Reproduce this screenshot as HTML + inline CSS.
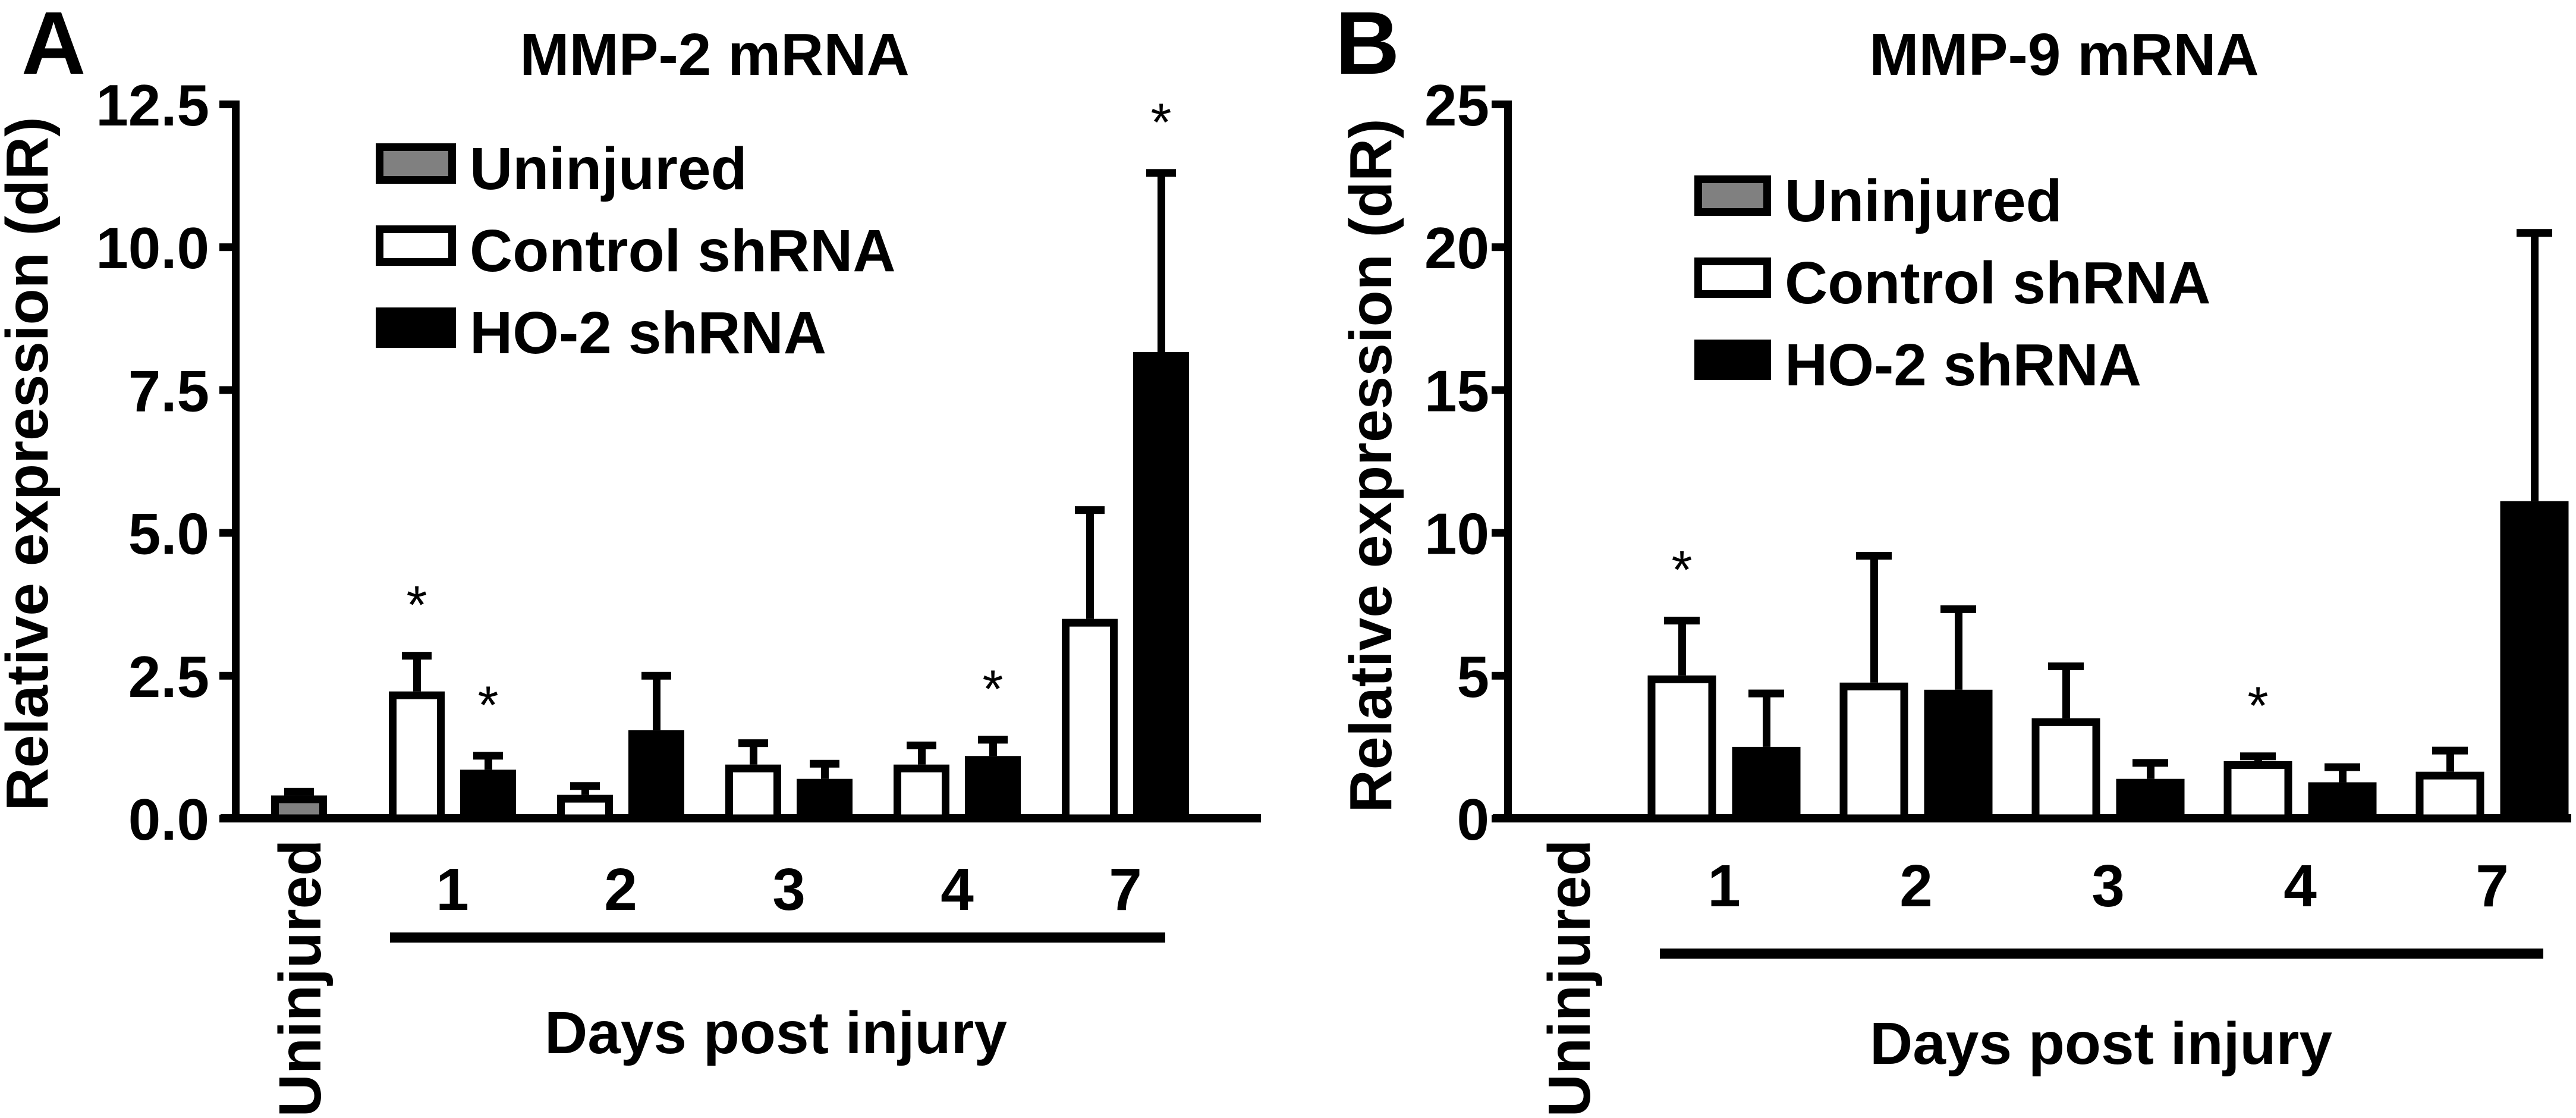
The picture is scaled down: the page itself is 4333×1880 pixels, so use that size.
<!DOCTYPE html>
<html><head><meta charset="utf-8">
<style>
html,body{margin:0;padding:0;background:#fff;}
svg{display:block;}
text{font-family:"Liberation Sans",Arial,sans-serif;font-weight:bold;fill:#000;}
</style></head>
<body>
<svg id="fig" width="4333" height="1880" viewBox="0 0 4333 1880" xmlns="http://www.w3.org/2000/svg">
<g id="pa"></g>
<g id="pb"></g>
</svg>
<script>
// Shared categories
const days = ["1","2","3","4","7"];
// Panel A data (MMP-2)
const aTicks = ["0.0","2.5","5.0","7.5","10.0","12.5"];
const aTickVals = [0,2.5,5,7.5,10,12.5];
const aUninj = 0.40, aUninjErr = 0.47;
const aCtrl = [2.22,0.41,0.94,0.94,3.49];
const aCtrlErr = [2.85,0.57,1.32,1.28,5.40];
const aHo = [0.85,1.54,0.69,1.09,8.16];
const aHoErr = [1.10,2.50,0.96,1.38,11.30];
const aCtrlStar = [true,false,false,false,false];
const aHoStar = [true,false,false,true,true];
// Panel B data (MMP-9)
const bTicks = ["0","5","10","15","20","25"];
const bTickVals = [0,5,10,15,20,25];
const bUninj = 0.05, bUninjErr = 0.05;
const bCtrl = [5.0,4.75,3.5,2.0,1.63];
const bCtrlErr = [6.93,9.2,5.33,2.18,2.38];
const bHo = [2.5,4.5,1.38,1.26,11.1];
const bHoErr = [4.38,7.33,1.95,1.8,20.5];
const bCtrlStar = [true,false,false,true,false];
const bHoStar = [false,false,false,false,false];

const NS="http://www.w3.org/2000/svg";
function mk(tag, attrs, parent, txt){
  const e=document.createElementNS(NS,tag);
  for(const k in attrs) e.setAttribute(k, attrs[k]);
  if(txt!==undefined) e.textContent=txt;
  parent.appendChild(e);
  return e;
}

function panel(g, cfg){
  const y = v => cfg.y0 - (v/cfg.ymax)*(cfg.y0-cfg.yTop);
  const SW=13;
  // letter
  let t=mk('text',{x:cfg.letterX,y:124,'font-size':150},g,cfg.letter);
  
  
  t=mk('text',{x:cfg.titleX,y:126,'font-size':100,'text-anchor':'middle'},g,cfg.title);
  
  
  // y label
  t=mk('text',{x:0,y:0,'font-size':100,'text-anchor':'middle',transform:`translate(${cfg.ylabX},${cfg.ylabY}) rotate(-90)`},g,"Relative expression (dR)");
  
  
  // axes
  let a=mk('rect',{x:cfg.ax-6,y:cfg.yTop-6,width:13,height:cfg.y0-cfg.yTop+12},g);
  
  
  a=mk('rect',{x:cfg.ax-25,y:cfg.y0-7,width:cfg.xEnd-cfg.ax+25,height:14},g);
  
  
  cfg.tickVals.forEach((v,i)=>{
    const ty=y(v);
    const tk=mk('rect',{x:cfg.ax-27,y:ty-6,width:27,height:13},g);
    
    
    const tl=mk('text',{x:cfg.tickRight,y:ty+36,'font-size':98,'text-anchor':'end'},g,cfg.ticks[i]);
    
    
  });
  function bar(cx, v, err, fill, name, star){
    const left=cx-cfg.bw/2, top=y(v);
    const h=Math.max(cfg.y0-top,1);
    if(err>v){
      const es=mk('rect',{x:cx-6,y:y(err),width:13,height:top-y(err)},g);
      
      
      const ec=mk('rect',{x:cx-cfg.capW/2,y:y(err)-6,width:cfg.capW,height:13},g);
      
      
    }
    const r=mk('rect',{x:left+SW/2,y:top+SW/2,width:cfg.bw-SW,height:Math.max(h-SW/2,0),fill:fill,stroke:'#000','stroke-width':SW},g);
    
    
    if(star){
      const s=mk('text',{x:cx,y:y(err)-100+46,'font-size':90,'font-weight':'normal','text-anchor':'middle',style:'font-weight:normal'},g,'*');
      
      
    }
  }
  bar(cfg.uninjX, cfg.uninj, cfg.uninjErr, '#808080','bar-uninjured',false);
  days.forEach((d,i)=>{
    const c=cfg.c1+i*cfg.pitch;
    bar(c-cfg.off, cfg.ctrl[i], cfg.ctrlErr[i], '#fff','bar-control-day'+d,cfg.ctrlStar[i]);
    bar(c+cfg.off, cfg.ho[i], cfg.hoErr[i], '#000','bar-ho2-day'+d,cfg.hoStar[i]);
    const dl=mk('text',{x:c,y:cfg.dayY,'font-size':100,'text-anchor':'middle'},g,d);
    
    
  });
  t=mk('text',{x:0,y:0,'font-size':100,'text-anchor':'middle',transform:`translate(${cfg.uninjX+36},1645) rotate(-90)`},g,"Uninjured");
  
  
  a=mk('rect',{x:cfg.lineX1,y:cfg.lineY-8,width:cfg.lineX2-cfg.lineX1,height:17},g);
  
  
  t=mk('text',{x:cfg.dpiX,y:cfg.dpiY,'font-size':100,'text-anchor':'middle'},g,"Days post injury");
  
  
  // legend
  const fills=['#808080','#fff','#000'], labels=['Uninjured','Control shRNA','HO-2 shRNA'];
  labels.forEach((lb,i)=>{
    const by=cfg.legY+i*cfg.legStep;
    const lg=mk('g',{},g);
    
    
    const sw=mk('rect',{x:cfg.legX+6.5,y:by+6.5,width:cfg.legW-13,height:55,fill:fills[i],stroke:'#000','stroke-width':13},lg);
    
    
    const lt=mk('text',{x:cfg.legX+cfg.legW+23,y:by+77,'font-size':100},lg,lb);
    
    
  });
}

panel(document.getElementById('pa'),{
  letter:'A', letterX:36, title:'MMP-2 mRNA', titleX:1202, ylabX:80, ylabY:780,
  ax:396, y0:1376, yTop:175, ymax:12.5, xEnd:2121, tickRight:352,
  ticks:aTicks, tickVals:aTickVals,
  uninj:aUninj, uninjErr:aUninjErr, uninjX:503,
  ctrl:aCtrl, ctrlErr:aCtrlErr, ho:aHo, hoErr:aHoErr, ctrlStar:aCtrlStar, hoStar:aHoStar,
  c1:761, pitch:283, off:60, bw:94, capW:50,
  dayY:1530, lineX1:656, lineX2:1960, lineY:1576, dpiX:1305, dpiY:1771,
  legX:632, legY:241, legStep:138, legW:135
});
panel(document.getElementById('pb'),{
  letter:'B', letterX:2246, title:'MMP-9 mRNA', titleX:3472, ylabX:2340, ylabY:783,
  ax:2536, y0:1376, yTop:175, ymax:25, xEnd:4325, tickRight:2505,
  ticks:bTicks, tickVals:bTickVals,
  uninj:bUninj, uninjErr:bUninjErr, uninjX:2638,
  ctrl:bCtrl, ctrlErr:bCtrlErr, ho:bHo, hoErr:bHoErr, ctrlStar:bCtrlStar, hoStar:bHoStar,
  c1:2900, pitch:323, off:71, bw:115, capW:60,
  dayY:1524, lineX1:2792, lineX2:4278, lineY:1603, dpiX:3534, dpiY:1789,
  legX:2850, legY:295, legStep:138, legW:129
});
</script>
</body></html>
